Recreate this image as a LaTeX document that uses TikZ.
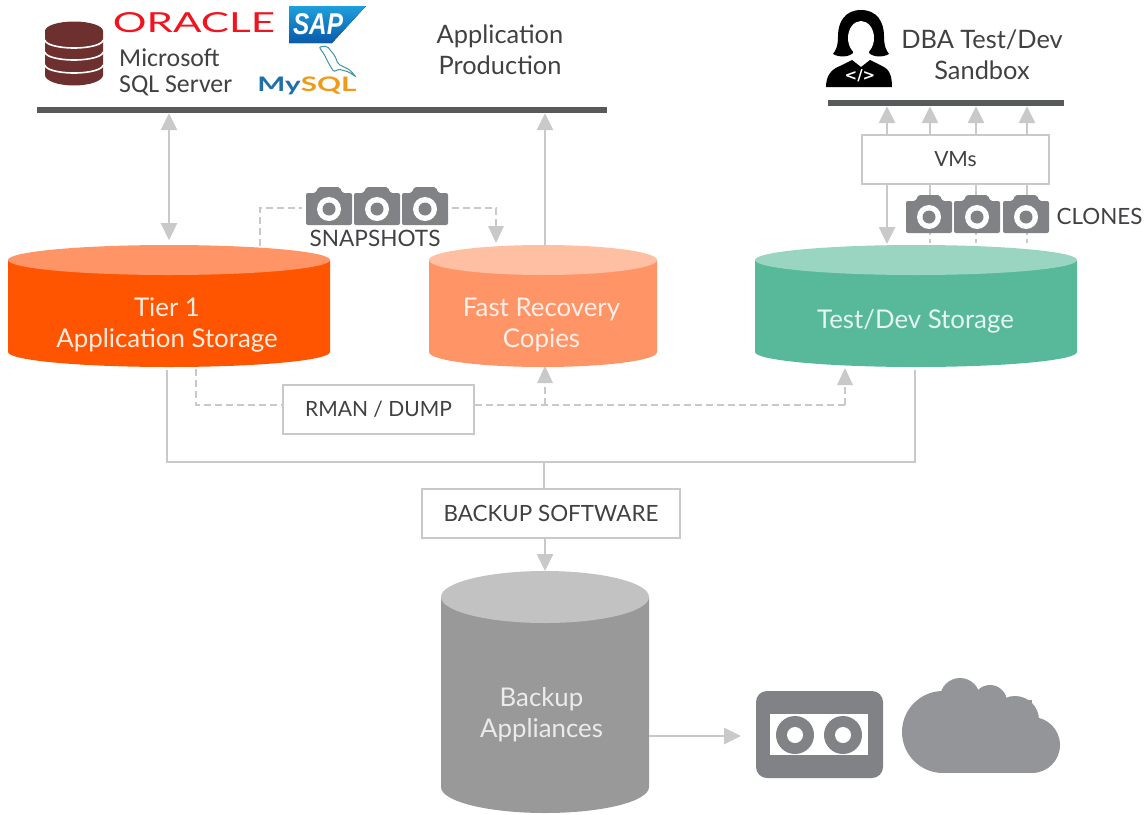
\documentclass[tikz,border=0pt]{standalone}
\usepackage{fontspec}
\setmainfont{Lato}
\newfontfamily\msfont{Carlito}
\newfontfamily\logofont{Liberation Sans}
\newfontfamily\codefont{DejaVu Sans}
\usetikzlibrary{arrows.meta,positioning,calc}
\definecolor{linegray}{HTML}{C9C9C9}
\definecolor{bargray}{HTML}{58595B}
\definecolor{camgray}{HTML}{808285}
\definecolor{cloudgray}{HTML}{939598}
\definecolor{labelgray}{HTML}{414042}
\definecolor{dbbrown}{HTML}{6E2F2F}
\definecolor{tierbody}{HTML}{FF5500}
\definecolor{tierend}{HTML}{FF9466}
\definecolor{fastend}{HTML}{FFBFA3}
\definecolor{testbody}{HTML}{57B99A}
\definecolor{testend}{HTML}{9AD5C2}
\definecolor{backbody}{HTML}{999999}
\definecolor{backend}{HTML}{C2C2C2}
\definecolor{oraclered}{HTML}{F0141E}
\definecolor{sapa}{HTML}{1EA0DC}
\definecolor{sapb}{HTML}{0A5AAA}
\definecolor{dolphin}{HTML}{3C96A5}
\definecolor{myblue}{HTML}{1F6FA8}
\definecolor{myorange}{HTML}{F09A1A}
\tikzset{
    storagetext/.style={inner sep=0pt,align=center,font=\fontsize{25.8}{31}\selectfont},
    flow/.style={draw=linegray,line width=2.6pt},
    dashflow/.style={draw=linegray,line width=2pt,dash pattern=on 7pt off 4pt},
    tip/.style={-{Triangle[width=16pt,length=17pt]}},
    swbox/.style={draw=linegray,line width=2pt,fill=white,inner sep=0pt,text=labelgray,
        font=\fontsize{21}{26}\selectfont},
    bar/.style={fill=bargray,inner sep=0pt,minimum height=6pt},
    label/.style={text=labelgray,align=center,inner sep=0pt,font=\fontsize{25.4}{31}\selectfont},
    camera/.pic={
        \fill[camgray,rounded corners=2pt] (12,0) -- (34,0) -- (36,6) -- (46,6) -- (46,38) -- (0,38) -- (0,6) -- (10,6) -- cycle;
        \fill[white] (23,22) circle (12);
        \fill[camgray] (23,22) circle (6.5);
    }
}
% name, x, top, half width, bottom, end radius, body colour, end colour
\newcommand{\storagedisk}[8]{
    \fill[#7] ({#2-#4},{#5-#6}) arc[start angle=180,end angle=0,x radius=#4,y radius=#6] -- ({#2+#4},{#3+#6}) -- ({#2-#4},{#3+#6}) -- cycle;
    \fill[#8] (#2,{#3+#6}) ellipse[x radius=#4,y radius=#6];
    \node[inner sep=0pt,outer sep=0pt,minimum width=2*#4 pt,minimum height=#5pt-#3pt] (#1) at (#2,{(#3+#5)/2}) {};
}
\begin{document}
\begin{tikzpicture}[x=1pt,y=-1pt]
    \useasboundingbox (0,0) rectangle (1145,814);

    \node[bar,minimum width=570pt] (appbar) at (322,110) {};
    \node[bar,minimum width=236pt] (dbabar) at (946,103) {};

    \storagedisk{tier1}{169}{245}{161}{367}{15}{tierbody}{tierend}
    \storagedisk{fast}{543}{245}{114}{367}{15}{tierend}{fastend}
    \storagedisk{testdev}{916}{245}{161}{367}{15}{testbody}{testend}
    \storagedisk{backup}{545}{571}{104}{813}{26}{backbody}{backend}
    \node[storagetext,text=white!88!tierbody] (tier1text) at (167,324.5) {Tier 1\\Application Storage};
    \node[storagetext,text=white!85!tierend] (fasttext) at (541.5,324.5) {Fast Recovery\\Copies};
    \node[storagetext,text=white!85!testbody] (testdevtext) at (915.5,321) {Test/Dev Storage};
    \node[storagetext,text=white!80!backbody] (backuptext) at (541.5,714.5) {Backup\\Appliances};

    \node[swbox,minimum width=191pt,minimum height=49pt] (rman) at (378.5,409.5) {RMAN / DUMP};
    \node[swbox,minimum width=258pt,minimum height=49pt,font=\fontsize{22.4}{26}\selectfont] (backupsw) at (551,513.5) {BACKUP SOFTWARE};
    \node[swbox,minimum width=187pt,minimum height=49pt] (vms) at (955.5,159.5) {VMs};

    % application side
    \draw[flow,{Triangle[width=16pt,length=17pt]}-{Triangle[width=16pt,length=17pt]}] (tier1.north |- appbar.south) -- ++(0,127);
    \coordinate (fa) at (545,246);
    \draw[flow,tip] (fa) -- (fa |- appbar.south);
    \coordinate (sa) at (260,246);
    \coordinate (sb) at (302,208);
    \coordinate (sc) at (452,208);
    \coordinate (sd) at (496,243);
    \draw[dashflow] (sa) |- (sb);
    \draw[dashflow] (sc) -| ($(sd)+(0,-14)$);
    \fill[linegray] (sd) -- ++(-8,-17) -- ++(16,0) -- cycle;

    % sandbox side
    \coordinate (va) at (887,135);
    \coordinate (vb) at (930,135);
    \coordinate (vc) at (976,135);
    \coordinate (vd) at (1027,135);
    \draw[flow,tip] (va) -- (va |- dbabar.south);
    \draw[flow,tip] (vb) -- (vb |- dbabar.south);
    \draw[flow,tip] (vc) -- (vc |- dbabar.south);
    \draw[flow,tip] (vd) -- (vd |- dbabar.south);
    \draw[flow,tip] (va |- vms.south) -- (887,244);
    \draw[flow] (vb |- vms.south) -- ++(0,15);
    \draw[flow] (vc |- vms.south) -- ++(0,15);
    \draw[flow] (vd |- vms.south) -- ++(0,15);
    \draw[dashflow,dash pattern=on 4pt off 4pt] (vb |- testdev.north) ++(0,-2) -- ++(0,-14);
    \draw[dashflow,dash pattern=on 4pt off 4pt] (vc |- testdev.north) ++(0,-2) -- ++(0,-14);
    \draw[dashflow,dash pattern=on 4pt off 4pt] (vd |- testdev.north) ++(0,-2) -- ++(0,-14);

    % rman and backup paths
    \coordinate (ra) at (196,369);
    \coordinate (rb) at (545,405);
    \coordinate (rc) at (845,405);
    \draw[dashflow] (ra) |- (rman.west |- rb);
    \draw[dashflow] (rman.east |- rb) -- (rc);
    \draw[dashflow] (rb) -- ++(0,-22);
    \draw[dashflow] (rc) -- ++(0,-22);
    \fill[linegray] (545,366) -- ++(-8,17) -- ++(16,0) -- cycle;
    \fill[linegray] (845,368) -- ++(-8,17) -- ++(16,0) -- cycle;
    \coordinate (ba) at (167,370);
    \coordinate (bb) at (915,370);
    \coordinate (bc) at (544,462);
    \draw[flow] (ba) |- (bb |- bc) -- (bb);
    \draw[flow] (bc) -- (bc |- backupsw.north);
    \draw[flow,tip] (545,538) -- (545,571);
    \coordinate (tp) at (741,736);
    \draw[flow,tip] (backup.east |- tp) -- (tp);

    \pic at (306,187) {camera};
    \pic at (354,187) {camera};
    \pic at (402,187) {camera};
    \pic at (906,195) {camera};
    \pic at (954,195) {camera};
    \pic at (1003,195) {camera};
    \node[label,font=\fontsize{22.6}{24}\selectfont] (snapshots) at (375,238) {SNAPSHOTS};
    \node[label,font=\fontsize{22.4}{24}\selectfont] (clones) at (1099.5,216) {CLONES};

    \node[label] (appprod) at (500,49.5) {Application\\Production};
    \node[label] (dbalabel) at (982,54.5) {DBA Test/Dev\\Sandbox};

    % logos
    \fill[dbbrown] (45,31) arc[start angle=180,end angle=360,x radius=29,y radius=9.5] -- (103,75) arc[start angle=0,end angle=180,x radius=29,y radius=10.5] -- cycle;
    \draw[white,line width=1.6pt] (45,40) arc[start angle=180,end angle=0,x radius=29,y radius=8];
    \draw[white,line width=1.6pt] (45,52) arc[start angle=180,end angle=0,x radius=29,y radius=8];
    \draw[white,line width=1.6pt] (45,65) arc[start angle=180,end angle=0,x radius=29,y radius=8];

    \node[inner sep=0pt,text=oraclered] (oracle) at (194,23) {\resizebox{162pt}{20pt}{ORACLE}};
    \node[inner sep=0pt,text=labelgray,align=left,anchor=north west,font=\msfont\fontsize{25.8}{26}\selectfont] (mssql) at (119,49) {Microsoft\\SQL Server};

    \fill[top color=sapa,bottom color=sapb] (289,6) -- (366,6) -- (332,43) -- (289,43) -- cycle;
    \node[inner sep=0pt,text=white] (sap) at (318,24) {\resizebox{50pt}{21pt}{\logofont\bfseries\itshape SAP}};
    \draw[draw=dolphin,line width=1pt,rounded corners=2pt] (319,47) -- (327,46) -- (335,56) -- (338,64) -- (350,70) -- (356,77) -- (349,72) -- (338,69) -- (334,72) -- (329,64) -- (324,54) -- cycle;
    \node[inner sep=0pt] (mysql) at (307,86) {\resizebox*{99pt}{18pt}{\bfseries\textcolor{myblue}{My}\textcolor{myorange}{SQL}}};

    % dba figure
    \fill[black] (861,10) .. controls (845,10) and (838,22) .. (838,36) .. controls (838,46) and (836,50) .. (833,54)
        .. controls (840,58) and (850,57) .. (854,52) -- (868,52) .. controls (872,57) and (882,58) .. (889,54)
        .. controls (886,50) and (884,46) .. (884,36) .. controls (884,22) and (877,10) .. (861,10) -- cycle;
    \fill[black] (826,87) .. controls (826,75) and (832,69) .. (840,66) -- (852,60) -- (861,67) -- (870,60) -- (882,66)
        .. controls (889,69) and (892,75) .. (892,87) -- cycle;
    \fill[white] (853,48) -- (869,48) -- (869,60) -- (861,65) -- (853,60) -- cycle;
    \fill[white] (861,38) ellipse[x radius=13,y radius=17];
    \node[inner sep=0pt,text=white,font=\codefont\bfseries\fontsize{15}{15}\selectfont] (code) at (860,76) {</>};

    % tape and cloud
    \fill[camgray,rounded corners=11pt] (756,691) rectangle (883,778);
    \fill[white] (770,714) rectangle (868,755);
    \fill[camgray] (795,735) circle (19);
    \fill[camgray] (843,735) circle (19);
    \fill[white] (795,735) circle (8);
    \fill[white] (843,735) circle (8);

    \fill[cloudgray] (943,732) circle (41);
    \fill[cloudgray] (960,698) circle (20);
    \fill[cloudgray] (990,702) circle (17);
    \fill[cloudgray] (1015,720) circle (24);
    \fill[cloudgray] (1032,745) circle (28);
    \fill[cloudgray] (943,700) rectangle (1032,773);
\end{tikzpicture}
\end{document}
